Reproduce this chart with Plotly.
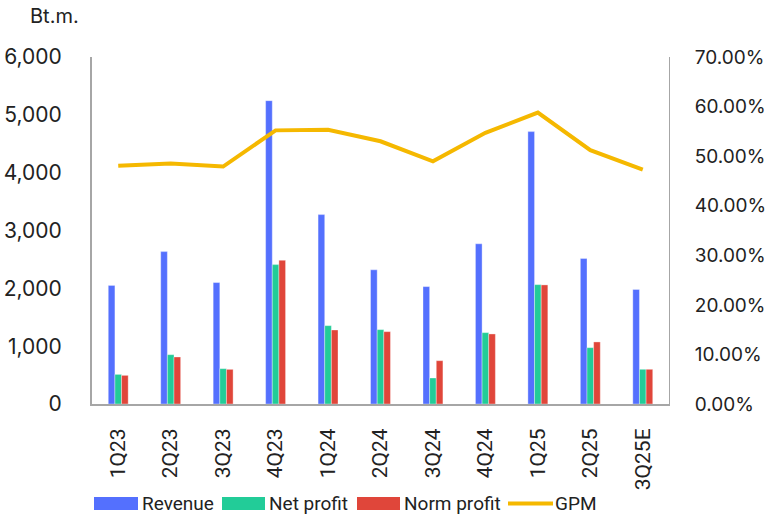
import plotly.graph_objects as go

quarters = ["1Q23", "2Q23", "3Q23", "4Q23", "1Q24", "2Q24", "3Q24", "4Q24", "1Q25", "2Q25", "3Q25E"]
revenue = [2050, 2635, 2100, 5245, 3275, 2320, 2030, 2770, 4710, 2515, 1980]
net_profit = [512, 853, 611, 2410, 1355, 1286, 450, 1234, 2064, 974, 600]
norm_profit = [495, 813, 599, 2485, 1280, 1251, 749, 1211, 2059, 1073, 600]
gpm = [0.4807, 0.4850, 0.4790, 0.5520, 0.5530, 0.5300, 0.4896, 0.5470, 0.5880, 0.5120, 0.4730]

C_REV = "#5470FE"
C_NET = "#22CC98"
C_NORM = "#E0463A"
C_GPM = "#F5B800"

fig = go.Figure()
edge = dict(color="rgba(255,255,255,0.35)", width=1)
fig.add_trace(go.Bar(x=quarters, y=revenue, name="Revenue", marker=dict(color=C_REV, line=edge)))
fig.add_trace(go.Bar(x=quarters, y=net_profit, name="Net profit", marker=dict(color=C_NET, line=edge)))
fig.add_trace(go.Bar(x=quarters, y=norm_profit, name="Norm profit", marker=dict(color=C_NORM, line=edge)))
fig.add_trace(go.Scatter(x=quarters, y=gpm, name="GPM", yaxis="y2", mode="lines",
                         line=dict(color=C_GPM, width=4)))

L, R, T, B = 92, 669, 57, 404
W, H = R - L, B - T
def px(x):
    return (x - L) / W
def py(y):
    return (B - y) / H

fig.update_layout(
    width=771, height=520,
    margin=dict(l=L, r=771 - R, t=T, b=520 - B, autoexpand=False),
    paper_bgcolor="white", plot_bgcolor="white",
    barmode="group", bargap=0.62, bargroupgap=0,
    showlegend=False,
    font=dict(family="Roboto, sans-serif", size=18, color="#222"),
    xaxis=dict(showline=True, linecolor="#a6a6a6", linewidth=2, showgrid=False, automargin=False,
               tickangle=-90, ticks="outside", ticklen=14, tickcolor="rgba(0,0,0,0)",
               tickfont=dict(family="Roboto, sans-serif", size=21, color="#222")),
    yaxis=dict(range=[0, 6000], dtick=1000, tickformat=",", showgrid=False, zeroline=False,
               showline=True, linecolor="#a6a6a6", linewidth=2, automargin=False,
               ticks="outside", ticklen=24, tickcolor="rgba(0,0,0,0)",
               tickfont=dict(family="Inter, Poppins, sans-serif", size=21, color="#222")),
    yaxis2=dict(range=[0, 0.7], dtick=0.1, tickformat=".2%", overlaying="y", side="right",
                showgrid=False, zeroline=False, showline=True, linecolor="#a6a6a6", linewidth=1,
                automargin=False,
                ticks="outside", ticklen=21, tickcolor="rgba(0,0,0,0)",
                tickfont=dict(family="Inter, Poppins, sans-serif", size=19, color="#222")),
)

fig.add_annotation(text="Bt.m.", xref="paper", yref="paper", x=px(28), y=py(16),
                   xanchor="left", yanchor="middle", showarrow=False,
                   font=dict(family="Inter, Poppins, sans-serif", size=20, color="#222"))

# custom legend
ly = 503.5
items = [("rect", C_REV, 94, 138, "Revenue", 140),
         ("rect", C_NET, 222, 265, "Net profit", 267),
         ("rect", C_NORM, 357, 400, "Norm profit", 402),
         ("line", C_GPM, 508, 553, "GPM", 553)]
for kind, col, x0, x1, label, tx in items:
    if kind == "rect":
        fig.add_shape(type="rect", xref="paper", yref="paper", x0=px(x0), x1=px(x1),
                      y0=py(ly - 6.5), y1=py(ly + 6.5), fillcolor=col, line=dict(width=0))
    else:
        fig.add_shape(type="line", xref="paper", yref="paper", x0=px(x0), x1=px(x1),
                      y0=py(ly), y1=py(ly), line=dict(color=col, width=4))
    fig.add_annotation(text=label, xref="paper", yref="paper", x=px(tx), y=py(ly),
                       xanchor="left", yanchor="middle", showarrow=False,
                       font=dict(family="Roboto, sans-serif", size=19, color="#222"))

fig.write_html("out.html")
